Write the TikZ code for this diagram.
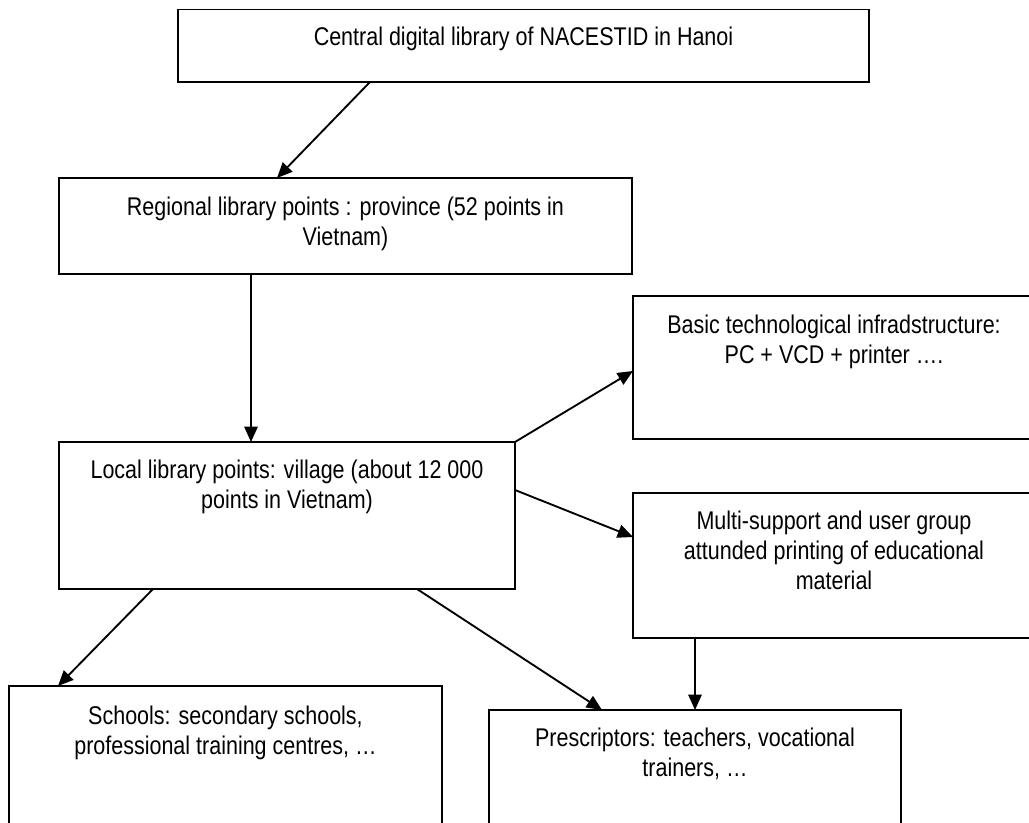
\documentclass[tikz,border=0pt]{standalone}
\usepackage{fontspec}
\setmainfont{Liberation Sans}[FakeStretch=0.84]
\usetikzlibrary{fit,calc,arrows.meta}

\tikzset{
  box/.style={draw, line width=1.4pt, inner sep=0pt, outer sep=0pt, rectangle},
  label/.style={anchor=north, inner sep=0pt, align=center,
                font=\fontsize{19.2pt}{22.5pt}\selectfont},
  link/.style={line width=1.4pt, -{Triangle[length=11.5pt,width=10pt]}}
}

\begin{document}
\begin{tikzpicture}[x=0.75pt, y=-0.75pt]
  \useasboundingbox (0,0) rectangle (1029,823);
  \clip (0,0) rectangle (1029,823);

  % boxes, given by their corners
  \node[box, fit={(178,9.5) (869,82)}]   (central) {};
  \node[box, fit={(59,178) (632,274)}]   (regional) {};
  \node[box, fit={(59,442) (515,589)}]   (local) {};
  \node[box, fit={(633,296) (1035,439)}] (infra) {};
  \node[box, fit={(633,493) (1035,638)}] (multi) {};
  \node[box, fit={(9,686) (442,870)}]    (schools) {};
  \node[box, fit={(489,710) (901,870)}]  (prescr) {};

  % box texts
  \node[label] (tcentral)  at (523.5,27) {Central digital library of NACESTID in Hanoi};
  \node[label] (tregional) at (345.5,196.5) {Regional library points : province (52 points in\\Vietnam)};
  \node[label] (tlocal)    at (287,459.5) {Local library points: village (about 12 000\\points in Vietnam)};
  \node[label] (tinfra)    at (834,314.5) {Basic technological infradstructure:\\PC + VCD + printer \dots.};
  \node[label] (tmulti)    at (834,511)   {Multi-support and user group\\attunded printing of educational\\material};
  \node[label] (tschools)  at (225.5,705.5) {Schools: secondary schools,\\professional training centres, \dots};
  \node[label] (tprescr)   at (695,727.5) {Prescriptors: teachers, vocational\\trainers, \dots};

  % connectors
  \draw[link] ($(central.south west)+(192,0)$) -- ($(regional.north west)+(218,0)$);
  \draw[link] ($(regional.south west)+(192,0)$) -- ($(local.north west)+(192,0)$);
  \draw[link] (local.north east) -- ($(infra.south west)+(0,-68)$);
  \draw[link] ($(local.north east)+(0,48)$) -- ($(multi.north west)+(0,44)$);
  \draw[link] ($(local.south west)+(94,0)$) -- ($(schools.north west)+(49,0)$);
  \draw[link] ($(local.south west)+(358,0)$) -- ($(prescr.north west)+(113,0)$);
  \draw[link] ($(multi.south west)+(62,0)$) -- ($(prescr.north west)+(206,0)$);
\end{tikzpicture}
\end{document}
